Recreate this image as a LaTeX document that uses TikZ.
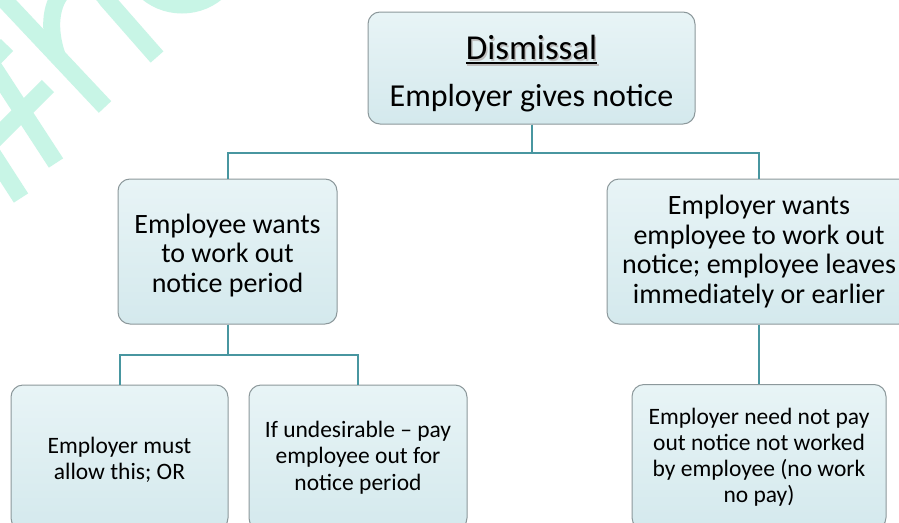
\documentclass[tikz,border=0pt]{standalone}
\usepackage{fontspec}
\setmainfont{Carlito}
\definecolor{boxline}{RGB}{140,152,155}
\definecolor{boxtop}{RGB}{232,244,246}
\definecolor{boxbot}{RGB}{212,233,237}
\definecolor{linkteal}{RGB}{72,150,160}
\definecolor{mint}{RGB}{200,245,230}
\newcommand\ulinetext[1]{\setbox0\hbox{#1}\rlap{\rule[-4.5pt]{\wd0}{2pt}}\box0}
\newcommand\headtext[1]{\makebox[0pt][l]{\hspace{1.5pt}\raisebox{-1.5pt}{\textcolor{black!25}{\ulinetext{#1}}}}\ulinetext{#1}}

\begin{document}
\begin{tikzpicture}[x=1pt,y=-1pt,
		box/.style={draw=boxline, line width=1pt, rounded corners=12pt,
			top color=boxtop, bottom color=boxbot, align=center, inner sep=0pt},
		conn/.style={draw=linkteal, line width=2pt},
		wm/.style={draw=mint, line width=17pt}]
			\useasboundingbox (0,0) rectangle (899,522);
			\clip (0,0) rectangle (899,522);
			\fill[white] (0,0) rectangle (899,522);
			% faint lettering in the corner
			\draw[wm] (-6,-11) -- (105,107);
			\draw[wm] (58,58) .. controls (35,-5) and (80,-40) .. (107,0) -- (157,57);
			\draw[wm] (182,-50) circle (55);
			\draw[wm] (-15,54) -- (56,163);
			\draw[wm] (-20,154) -- (48,86);
			\draw[wm] (-20,73) -- (7,45);
			\draw[wm] (-10,150) -- (21,198);
			% the boxes
			\node[box, minimum width=327pt, minimum height=112pt,
				font=\fontsize{32}{47}\selectfont] (dismissal) at (531.5,68)
				{\rule{0pt}{36pt}{\fontsize{35}{40}\selectfont\headtext{Dismissal}}\\Employer gives notice};
			\node[box, minimum width=219pt, minimum height=145pt,
				font=\fontsize{28}{29.5}\selectfont] (workout) at (227.5,251.5)
				{\rule{0pt}{27pt}Employee wants\\to work out\\notice period};
			\node[box, minimum width=304pt, minimum height=145pt,
				font=\fontsize{28}{29.5}\selectfont] (leaves) at (759,251.5)
				{Employer wants\\employee to work out\\notice; employee leaves\\immediately or earlier};
			\node[box, minimum width=217pt, minimum height=145pt,
				font=\fontsize{23.5}{26}\selectfont] (allow) at (119.5,457.5)
				{\rule{0pt}{20pt}Employer must\\allow this; OR};
			\node[box, minimum width=218pt, minimum height=145pt,
				font=\fontsize{23.5}{26.5}\selectfont] (payout) at (358,457.5)
				{If undesirable -- pay\\employee out for\\notice period};
			\node[box, minimum width=254pt, minimum height=145pt,
				font=\fontsize{23.5}{26}\selectfont] (nopay) at (759,457)
				{Employer need not pay\\out notice not worked\\by employee (no work\\no pay)};
			% connectors
			\draw[conn] (dismissal.south) -- ++(0,28) -| (workout.north);
			\draw[conn] (dismissal.south) -- ++(0,28) -| (leaves.north);
			\draw[conn] (workout.south) -- ++(0,30) -| (allow.north);
			\draw[conn] (workout.south) -- ++(0,30) -| (payout.north);
			\draw[conn] (leaves.south) -- (nopay.north);
		\end{tikzpicture}
\end{document}
